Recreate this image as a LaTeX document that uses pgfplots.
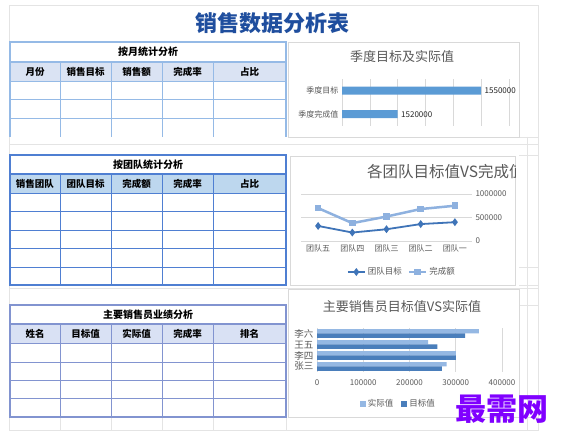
\documentclass[border=0pt]{standalone}
\usepackage{fontspec}
\setmainfont{Noto Sans CJK SC}
\usepackage{pgfplots}
\pgfplotsset{compat=1.18}
\definecolor{titleblue}{HTML}{1F4E9E}
\definecolor{tonel}{HTML}{95BAE6}
\definecolor{tonef}{HTML}{DAE3F3}
\definecolor{ttwol}{HTML}{4F7FD2}
\definecolor{ttwof}{HTML}{BDD7EE}
\definecolor{tthrl}{HTML}{8294D0}
\definecolor{tthrf}{HTML}{D9E1F4}
\definecolor{sheet}{HTML}{E4E4E4}
\definecolor{barblue}{HTML}{5B9BD5}
\definecolor{darkline}{HTML}{3F74B8}
\definecolor{lightline}{HTML}{8EB1DF}
\definecolor{bardark}{HTML}{4A7EBB}
\definecolor{barlight}{HTML}{95B8E3}
\definecolor{gridc}{HTML}{D9D9D9}
\definecolor{txtgray}{HTML}{595959}
\definecolor{wm}{HTML}{8000FF}
\newcommand\fs[1]{\fontsize{#1}{#1}\selectfont}
\begin{document}
\begin{tikzpicture}
\path[use as bounding box,fill=white] (0pt,0pt) rectangle (568pt,441pt);
\begin{scope}[shift={(0pt,441pt)},x=1pt,y=-1pt]
% sheet lines
\draw[sheet,line width=0.8pt] (9,5) -- (538,5) -- (538,430) -- (9,430) -- cycle;
\draw[sheet,line width=0.8pt] (9,144) -- (538,144);
\draw[sheet,line width=0.8pt] (9,288) -- (538,288);
\foreach \y in {137,155,267,285,305,417} \draw[sheet,line width=0.8pt] (519,\y) -- (538,\y);
\draw[sheet,line width=0.8pt] (527,137) -- (527,430);
\foreach \x in {60,111,162,213,286} \draw[sheet,line width=0.8pt] (\x,417) -- (\x,430);
% title
\node[font=\bfseries\fs{22},text=titleblue] at (272,23) {销售数据分析表};
% ---------- table 1
\fill[tonef] (10,62) rectangle (286,81);
\foreach \y in {81,99,118} \draw[tonel,line width=0.8pt] (10,\y) -- (286,\y);
\foreach \x in {60,111,162,213} \draw[tonel,line width=0.8pt] (\x,62) -- (\x,137);
\draw[tonel,line width=1.6pt] (10,62) -- (286,62);
\draw[tonel,line width=1.6pt] (10,137) -- (10,42) -- (286,42) -- (286,137);
\node[font=\bfseries\fs{10}] at (148,52) {按月统计分析};
\foreach \t/\x in {月份/35,销售目标/85.5,销售额/136.5,完成率/187.5,占比/249.5}
  \node[font=\bfseries\fs{9.5}] at (\x,71.5) {\t};
% ---------- table 2
\fill[ttwof] (10,174) rectangle (286,193);
\foreach \y in {193,211,230,248,267} \draw[ttwol,line width=0.8pt] (10,\y) -- (286,\y);
\foreach \x in {60,111,162,213} \draw[ttwol,line width=0.8pt] (\x,174) -- (\x,285);
\draw[ttwol,line width=1.6pt] (10,174) -- (286,174);
\draw[ttwol,line width=1.6pt] (10,155) rectangle (286,285);
\node[font=\bfseries\fs{10}] at (148,164.5) {按团队统计分析};
\foreach \t/\x in {销售团队/35,团队目标/85.5,完成额/136.5,完成率/187.5,占比/249.5}
  \node[font=\bfseries\fs{9.5}] at (\x,183.5) {\t};
% ---------- table 3
\fill[tthrf] (10,324) rectangle (286,343);
\foreach \y in {343,362,380,398} \draw[tthrl,line width=0.8pt] (10,\y) -- (286,\y);
\foreach \x in {60,111,162,213} \draw[tthrl,line width=0.8pt] (\x,324) -- (\x,417);
\draw[tthrl,line width=1.6pt] (10,324) -- (286,324);
\draw[tthrl,line width=1.6pt] (10,305) rectangle (286,417);
\node[font=\bfseries\fs{10}] at (148,314.5) {主要销售员业绩分析};
\foreach \t/\x in {姓名/35,目标值/85.5,实际值/136.5,完成率/187.5,排名/249.5}
  \node[font=\bfseries\fs{9.5}] at (\x,333.5) {\t};
% ---------- chart boxes
\draw[gridc,line width=0.8pt] (288,42) rectangle (519,137);
\draw[gridc,line width=0.8pt] (290,156) rectangle (515,285);
\draw[gridc,line width=0.8pt] (288,289) rectangle (519,417);
\node[font=\fs{13},text=txtgray] at (402,57) {季度目标及实际值};
\begin{scope}
\clip (290,156) rectangle (515,285);
\node[font=\fs{15.5},text=txtgray,anchor=west,inner sep=0pt] at (367,172) {各团队目标值VS完成值};
\end{scope}
\node[font=\fs{13},text=txtgray] at (402,307) {主要销售员目标值VS实际值};
\end{scope}
% ---------- chart 1
\begin{axis}[at={(342pt,362pt)},anchor=north west,scale only axis,
  width=167pt,height=47pt,xbar,scaled x ticks=false,
  xmin=1500000,xmax=1560000,
  xtick={1500000,1510000,1520000,1530000,1540000,1550000,1560000},
  xticklabels={},xmajorgrids,grid style={gridc,line width=0.6pt},
  ymin=-0.5,ymax=1.5,ytick={0,1},yticklabels={季度完成值,季度目标},
  axis line style={draw=none},major tick length=0pt,
  yticklabel style={font=\fs{8},text=txtgray},
  bar width=8pt,point meta=explicit symbolic,nodes near coords,
  nodes near coords style={font=\fs{8},text=black!85,anchor=west}]
\addplot[fill=barblue,draw=none] coordinates {(1520000,0) [1520000] (1550000,1) [1550000]};
\end{axis}
% ---------- chart 2
\begin{axis}[at={(301pt,247pt)},anchor=north west,scale only axis,
  width=171pt,height=47pt,scaled y ticks=false,
  xmin=-0.5,xmax=4.5,ymin=0,ymax=1000000,
  xtick={0,1,2,3,4},xticklabels={团队五,团队四,团队三,团队二,团队一},
  ytick={0,500000,1000000},yticklabels={0,500000,1000000},
  yticklabel pos=right,ymajorgrids,grid style={gridc,line width=0.8pt},
  axis line style={draw=none},major tick length=0pt,
  ticklabel style={font=\fs{8},text=txtgray},
  legend style={at={(0.59,-0.66)},anchor=center,draw=none,fill=none,
    font=\fs{8.5},text=txtgray,legend columns=2,
    /tikz/every even column/.append style={column sep=4pt}},
  clip=false]
\addplot[darkline,line width=1.8pt,mark=diamond*,mark size=2.5pt,mark options={fill=darkline}]
  coordinates {(0,320000) (1,180000) (2,250000) (3,360000) (4,400000)};
\addlegendentry{团队目标}
\addplot[lightline,line width=2.5pt,mark=square*,mark size=2pt,mark options={fill=lightline}]
  coordinates {(0,700000) (1,380000) (2,520000) (3,680000) (4,750000)};
\addlegendentry{完成额}
\end{axis}
% ---------- chart 3
\begin{axis}[at={(317pt,113pt)},anchor=north west,scale only axis,
  width=185pt,height=44pt,xbar,scaled x ticks=false,
  xmin=0,xmax=400000,xtick={0,100000,200000,300000,400000},
  xticklabels={0,100000,200000,300000,400000},
  xmajorgrids,grid style={gridc,line width=0.8pt},
  ymin=-0.5,ymax=3.5,ytick={0,1,2,3},yticklabels={张三,李四,王五,李六},
  axis line style={draw=none},major tick length=0pt,
  xticklabel style={font=\fs{8},text=txtgray,yshift=-4pt},
  yticklabel style={font=\fs{9.5},text=txtgray},
  bar width=4.4pt,
  legend style={at={(0.44,-0.72)},anchor=center,draw=none,fill=none,
    font=\fs{8.5},text=txtgray,legend columns=2,
    /tikz/every even column/.append style={column sep=6pt}},
  legend image code/.code={\fill[#1] (0pt,-3pt) rectangle (6pt,3pt);}]
\addplot[fill=barlight,draw=none,bar shift=2.2pt]
  coordinates {(280000,0) (300000,1) (240000,2) (350000,3)};
\addlegendentry{实际值}
\addplot[fill=bardark,draw=none,bar shift=-2.2pt]
  coordinates {(270000,0) (300000,1) (260000,2) (320000,3)};
\addlegendentry{目标值}
\end{axis}
% watermark
\node[font=\bfseries\fs{31},text=wm] at (502pt,32pt) {最需网};
\end{tikzpicture}
\end{document}
